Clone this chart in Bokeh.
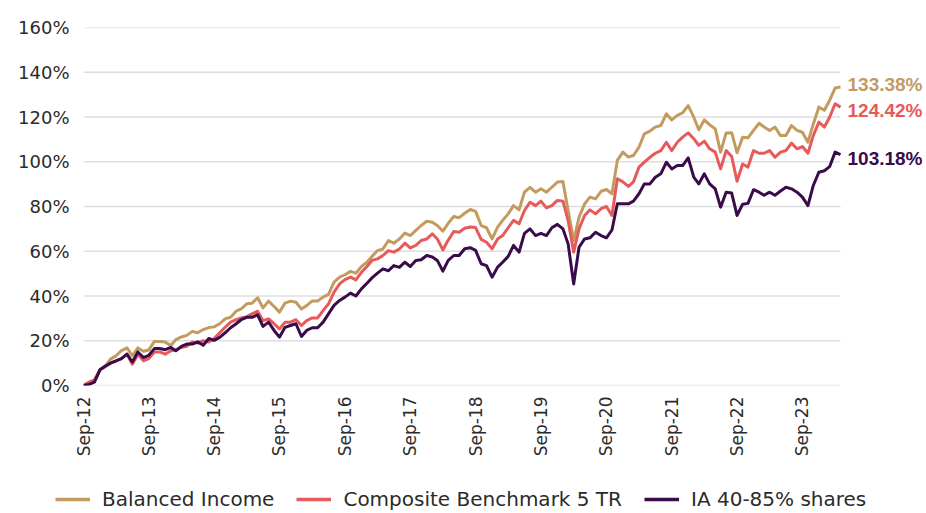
import math
import pandas as pd
from bokeh.plotting import figure
from bokeh.layouts import column
from bokeh.core.properties import value
from bokeh.models import (Range1d, FixedTicker, DatetimeTickFormatter, PrintfTickFormatter,
                          Legend, LegendItem, ColumnDataSource)
from bokeh.embed import file_html
from bokeh.resources import INLINE

# ---------------- data (cumulative performance, %) ----------------
start_month = "2012-09-30"
n_months = 140
series_names = ["Balanced Income", "Composite Benchmark 5 TR", "IA 40-85% shares"]

balanced_income = [
    0, 0.7, 2, 7, 8.8, 11.8, 13.3, 15.6, 16.8, 13.3, 16.8, 15.3, 15.9, 19.7, 19.7, 19.4,
    17.9, 20.5, 21.7, 22.4, 24.2, 23.6, 25, 25.9, 26.2, 27.6, 29.8, 30.5, 33.2, 34.2,
    36.5, 36.8, 39.2, 34.7, 37.7, 35.3, 32.8, 36.8, 37.7, 37.2, 34.2, 35.7, 37.8, 37.8,
    39.5, 40.7, 46.2, 48.4, 49.5, 51, 50.2, 53.2, 55.1, 57.7, 60.3, 61, 64.8, 63.6, 65.5,
    68.1, 67, 69.3, 71.5, 73.4, 73, 71.5, 69, 72.5, 75.5, 75, 77, 78.7, 77.8, 71.5, 70.5,
    65.5, 70.8, 73.8, 76.7, 80.4, 78.5, 86.4, 88.6, 86.4, 87.9, 86.4, 88.6, 90.9, 91.2,
    78.2, 64.8, 75.2, 81.2, 84.2, 83.4, 86.8, 87.6, 85.7, 100.6, 104.3, 102.1, 102.8,
    106.5, 112.5, 113.7, 115.5, 116.2, 121.4, 118.7, 120.7, 121.9, 125.1, 119.9, 114.3,
    118.7, 116.5, 114.7, 104.3, 112.9, 113, 104, 111, 110.7, 114, 117.2, 115.5, 114,
    115.5, 111.7, 111.7, 116.2, 114, 113.2, 108.7, 116.9, 124.4, 123, 127.4, 133, 133.38,
]
composite_benchmark = [
    0, 1.5, 2.5, 7, 8.5, 10, 11, 12, 14, 9.5, 14, 11, 12, 15, 15, 14, 15.5, 16, 17, 17.5,
    19.5, 19, 20, 19.4, 21, 23.5, 26, 28.3, 29.4, 30.2, 30.8, 32, 33.2, 29, 29.8, 27.6,
    25.3, 28.3, 28.3, 29.4, 26.8, 29, 30.2, 30.2, 33.5, 36.5, 41.7, 45.4, 47.3, 48.4,
    47.2, 50.6, 53.2, 55.9, 56.6, 58.1, 60.3, 59.6, 61, 63.6, 61.5, 62.6, 64.8, 65.5,
    67.8, 65.5, 60.6, 65, 68.8, 68.5, 70.3, 70.8, 70.6, 65.3, 64, 61.1, 65.5, 67, 70.5,
    73.8, 72.3, 78.2, 81.9, 80.4, 82.4, 79.4, 80.4, 82.7, 82.4, 73.7, 59.6, 70, 76, 78.5,
    76.7, 79, 80, 76, 92.4, 91, 89, 91, 97.6, 99.8, 102, 103.8, 105, 108.7, 105, 108.7,
    111, 112.9, 110.3, 107.3, 109.2, 105.8, 104.3, 96.8, 105, 102.3, 91.3, 99, 97.6, 105,
    103.8, 103.8, 105, 102, 104.3, 105, 108.3, 105.8, 106.8, 103.8, 111.7, 117.7, 115.5,
    119.9, 125.9, 124.42,
]
ia_sector = [
    0, 0.5, 1.5, 7, 8.7, 10, 11, 12, 14, 10.5, 15, 12.5, 13.5, 16.5, 16.5, 16, 17, 15.5,
    17.5, 18.5, 18.5, 19.5, 18, 21, 20.2, 21.5, 23.5, 25.8, 27.6, 29.4, 30.5, 30.5, 31.6,
    26.4, 28.3, 24.6, 21.6, 26, 26.8, 27.6, 21.9, 24.6, 25.8, 25.8, 28.3, 32, 35.8, 38,
    39.5, 41.3, 40, 43.2, 45.7, 48.1, 50.2, 52.1, 51.3, 53.6, 52.8, 55.1, 53.2, 55.9,
    56.2, 58.1, 57.4, 55.9, 51.1, 55.9, 58.1, 58.1, 61.1, 61.6, 60.4, 54.4, 53.6, 48.4,
    52.9, 55.1, 57.7, 62.6, 59.6, 68, 70, 67, 68, 67, 70.5, 72, 70, 63.3, 45.4, 61.8,
    65.5, 66, 68.5, 67, 66, 69.5, 81.2, 81.2, 81.2, 82.4, 85.7, 90.1, 90.1, 93.1, 94.6,
    99.8, 96.8, 98.3, 98.3, 101.7, 93.1, 90.1, 94.6, 90.1, 87.9, 79.7, 86.4, 86, 76, 81,
    81.4, 87.5, 86.4, 85, 86.4, 85, 86.9, 88.6, 87.9, 86.4, 84.2, 80.4, 89.4, 95.3, 96,
    97.8, 104.3, 103.18,
]
end_labels = ["133.38%", "124.42%", "103.18%"]
y_ticks = [0, 20, 40, 60, 80, 100, 120, 140, 160]
x_tick_every = 12  # one label each September

colors = ["#C49B5F", "#E85A5A", "#3A0B4A"]
font = "DejaVu Sans"
text_col = "#2b2b2b"

# ---------------- layout (pixels) ----------------
W = 926
H_main, H_leg = 470, 41
left, top, frame_bottom = 83, 27, 385
frame_right = 926          # frame extends right so the end labels fit inside it
data_right = 840           # where the last month sits

dates = pd.date_range(start_month, periods=n_months, freq="ME")
all_series = [balanced_income, composite_benchmark, ia_sector]

span = dates[-1] - dates[0]
x_end = dates[0] + span * ((frame_right - left) / (data_right - left))

p = figure(width=W, height=H_main, x_axis_type="datetime", output_backend="svg",
           toolbar_location=None, min_border_left=left, min_border_right=W - frame_right,
           min_border_top=top, min_border_bottom=H_main - frame_bottom)
p.frame_align = False
p.x_range = Range1d(dates[0], x_end)
p.y_range = Range1d(0, 160)
p.outline_line_color = None

# horizontal grid lines only across the data period
p.segment(x0=[dates[0]] * len(y_ticks), x1=[dates[-1]] * len(y_ticks),
          y0=y_ticks, y1=y_ticks, line_color="#dedede", line_width=1.5)

for vals, col in zip(all_series, colors):
    src = ColumnDataSource(dict(x=dates, y=vals))
    p.line("x", "y", source=src, line_color=col, line_width=3, line_join="round")

tick_ms = [d.value // 10**6 for d in dates[::x_tick_every]]
p.xaxis.ticker = FixedTicker(ticks=tick_ms)
p.xaxis.formatter = DatetimeTickFormatter(days="%b-%y", months="%b-%y", years="%b-%y")
p.xaxis.major_label_orientation = math.pi / 2
p.yaxis.ticker = FixedTicker(ticks=y_ticks)
p.yaxis.formatter = PrintfTickFormatter(format="%d%%")
for ax in (p.xaxis, p.yaxis):
    ax.axis_line_color = None
    ax.major_tick_line_color = None
    ax.minor_tick_line_color = None
    ax.major_tick_in = 0
    ax.major_tick_out = 0
    ax.major_label_text_font = font
    ax.major_label_text_color = text_col
p.yaxis.major_label_text_font_size = "18px"
p.xaxis.major_label_text_font_size = "17px"
p.yaxis.major_label_standoff = 14
p.xaxis.major_label_standoff = 11
p.xgrid.grid_line_color = None
p.ygrid.grid_line_color = None

# end labels
lab_src = ColumnDataSource(dict(
    x=[dates[-1]] * 3,
    y=[s[-1] for s in all_series],
    t=end_labels,
    c=colors,
    dy=[-3, 3, 4],
))
p.text(x="x", y="y", text="t", source=lab_src, text_color="c",
       x_offset=7, y_offset="dy", text_align="left", text_baseline="middle",
       text_font=value("Liberation Sans"), text_font_style="bold",
       text_font_size=value("19px"))

# ---------------- legend strip ----------------
lg = figure(width=W, height=H_leg, output_backend="svg", toolbar_location=None,
            x_range=Range1d(0, W), y_range=Range1d(0, H_leg),
            x_axis_location=None, y_axis_location=None,
            min_border_left=0, min_border_right=0, min_border_top=0, min_border_bottom=0)
lg.frame_align = False
lg.outline_line_color = None
lg.xgrid.grid_line_color = None
lg.ygrid.grid_line_color = None
# legend sample renderers drawn outside the visible range
leg_renderers = [lg.line(x=[-20, -10], y=[-20, -20], line_color=c, line_width=3.5) for c in colors]
legend = Legend(items=[LegendItem(label=n, renderers=[r]) for n, r in zip(series_names, leg_renderers)],
                orientation="horizontal", location=(55, 0),
                glyph_width=35, glyph_height=22, label_height=22, label_standoff=12,
                spacing=22, padding=0, margin=0,
                label_text_font=font, label_text_font_size="20px",
                label_text_color=text_col, border_line_color=None,
                background_fill_alpha=0)
lg.add_layout(legend, "center")

layout = column(p, lg, spacing=0)
open("out.html", "w").write(file_html(layout, INLINE))
